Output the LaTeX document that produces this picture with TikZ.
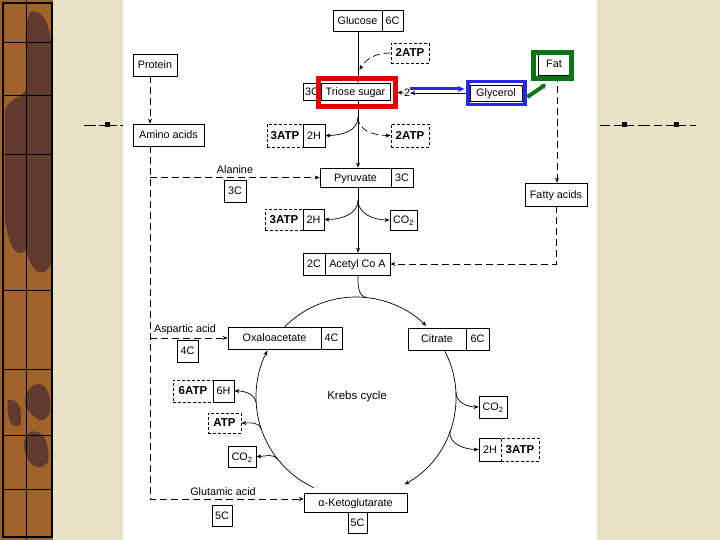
\documentclass[tikz,border=0pt]{standalone}
\usepackage{fontspec}
\setmainfont{Liberation Sans}
\usetikzlibrary{arrows.meta}

\definecolor{cream}{RGB}{232,227,198}
\definecolor{strip}{RGB}{160,100,42}
\definecolor{stripdark}{RGB}{96,58,44}
\definecolor{markred}{RGB}{228,0,0}
\definecolor{markblue}{RGB}{40,40,225}
\definecolor{markgreen}{RGB}{10,115,20}

\tikzset{
	box/.style 2 args={draw, fill=white, line width=0.7pt, inner sep=0pt, minimum width=#1, minimum height=#2, text height=7.8pt, text depth=0pt, font=\fontsize{10.8}{12}\selectfont},
	atpbox/.style 2 args={box={#1}{#2}, dash pattern=on 3pt off 2pt, font=\fontsize{11.5}{13}\selectfont\bfseries},
	lbl/.style={inner sep=0pt, font=\fontsize{10.8}{12}\selectfont},
	flux/.style={line width=0.7pt, -{Stealth[length=5pt,width=4pt]}},
	dflux/.style={flux, dash pattern=on 7pt off 4pt},
	hilite/.style={line width=#1},
}

\begin{document}
\begin{tikzpicture}[x=1pt,y=1pt]
	\useasboundingbox (0,0) rectangle (720,-540);
	
	% slide background
	\fill[white] (0,0) rectangle (720,-540);
	\fill[cream] (53,0) rectangle (123,-540);
	\fill[cream] (597,0) rectangle (720,-540);
	\fill[strip] (0,0) rectangle (53,-540);
	\fill[stripdark] (30,-12) .. controls (45,-8) and (52,-30) .. (52,-60) -- (52,-262) .. controls (42,-282) and (32,-272) .. (26,-250) .. controls (15,-262) and (8,-240) .. (5,-220) -- (5,-110) .. controls (12,-95) and (20,-100) .. (26,-90) .. controls (28,-60) and (22,-30) .. (30,-12);
	\fill[stripdark] (34,-385) .. controls (46,-380) and (52,-395) .. (50,-412) .. controls (44,-425) and (36,-420) .. (30,-412) .. controls (22,-408) and (24,-390) .. (34,-385);
	\fill[stripdark] (8,-400) .. controls (18,-398) and (24,-410) .. (20,-425) .. controls (12,-430) and (6,-420) .. (8,-400);
	\fill[stripdark] (30,-432) .. controls (44,-428) and (50,-445) .. (48,-462) .. controls (40,-472) and (30,-466) .. (26,-455) .. controls (22,-445) and (24,-436) .. (30,-432);
	\draw[line width=0.6pt] (26,0) -- (26,-540);
	\foreach \y in {42,95,154,290,369,435,489}
		\draw[line width=0.6pt] (3,-\y) -- (52,-\y);
	\draw[line width=1.6pt] (3,-3) rectangle (52,-537);
	
	% bullet lines
	\draw[line width=0.6pt] (84,-125) -- (96,-125) (99,-125) -- (117,-125) (120,-125) -- (123,-125);
	\draw[line width=0.6pt] (600,-125) -- (610,-125) (614,-125) -- (634,-125) (638,-125) -- (650,-125) (654,-125) -- (662,-125) (666,-125) -- (686,-125) (690,-125) -- (696,-125);
	\foreach \x in {107,624,676}
		\fill (\x-2.5,-122.5) rectangle (\x+2.5,-127.5);
	
	\coordinate (spine) at (358,0);
	\coordinate (trunk) at (150,0);
	\coordinate (fatline) at (557,0);
	\coordinate (C) at (356,-397);
	
	\node[box={49pt}{21pt}] (glucose) at (357.5,-20.5) {Glucose};
	\node[box={21pt}{21pt}] (glucosec) at (392.5,-20.5) {6C};
	\node[atpbox={38pt}{20pt}] (atpa) at (410,-53) {2ATP};
	\node[box={18pt}{17pt}] (triosec) at (312,-91.5) {3C};
	\node[box={69pt}{17pt}] (triose) at (355.5,-91.5) {Triose sugar};
	\node[lbl] (two) at (407,-93) {2};
	\node[box={52pt}{16pt}] (glycerol) at (496,-93) {Glycerol};
	\node[box={32pt}{22pt}] (fat) at (554,-64) {Fat};
	\node[box={44pt}{22pt}] (protein) at (155,-65) {Protein};
	\node[box={71pt}{22pt}] (amino) at (168.5,-135) {Amino acids};
	\node[atpbox={36pt}{23pt}] (atpb) at (285,-135.5) {3ATP};
	\node[box={22pt}{23pt}] (hb) at (314,-135.5) {2H};
	\node[atpbox={38pt}{23pt}] (atpc) at (410,-135.5) {2ATP};
	\node[box={71pt}{19pt}] (pyruvate) at (355.5,-177.5) {Pyruvate};
	\node[box={22pt}{19pt}] (pyruvatec) at (402,-177.5) {3C};
	\node[lbl] (alanine) at (235,-170) {Alanine};
	\node[box={22pt}{22pt}] (alaninec) at (235,-191) {3C};
	\node[atpbox={38pt}{21pt}] (atpd) at (284,-219.5) {3ATP};
	\node[box={21pt}{21pt}] (hd) at (313.5,-219.5) {2H};
	\node[box={27pt}{20pt}] (coa) at (403.5,-220) {CO\textsubscript{2}};
	\node[box={62pt}{23pt}] (fatty) at (556,-194.5) {Fatty acids};
	\node[box={22pt}{22pt}] (acetylc) at (314,-264) {2C};
	\node[box={65pt}{22pt}] (acetyl) at (357.5,-264) {Acetyl Co A};
	\node[box={93pt}{22pt}] (oxa) at (274.5,-338) {Oxaloacetate};
	\node[box={21pt}{22pt}] (oxac) at (331.5,-338) {4C};
	\node[box={58pt}{22pt}] (citrate) at (437,-339) {Citrate};
	\node[box={23pt}{22pt}] (citratec) at (477.5,-339) {6C};
	\node[lbl] (aspartic) at (185,-330) {Aspartic acid};
	\node[box={21pt}{22pt}] (asparticc) at (187.5,-351) {4C};
	\node[atpbox={40pt}{22pt}] (atpe) at (193,-391) {6ATP};
	\node[box={21pt}{22pt}] (he) at (223.5,-391) {6H};
	\node[atpbox={33pt}{20pt}] (atpf) at (224.5,-423) {ATP};
	\node[box={28pt}{21pt}] (cob) at (242,-456.5) {CO\textsubscript{2}};
	\node[lbl, font=\fontsize{11.5}{13}\selectfont] (krebs) at (357,-397) {Krebs cycle};
	\node[box={28pt}{22pt}] (coc) at (493,-407) {CO\textsubscript{2}};
	\node[box={22pt}{23pt}] (hg) at (490,-449.5) {2H};
	\node[atpbox={38pt}{23pt}] (atpg) at (520,-449.5) {3ATP};
	\node[lbl] (glutamic) at (223,-492) {Glutamic acid};
	\node[box={20pt}{21pt}] (glutamicc) at (222,-515.5) {5C};
	\node[box={103pt}{19pt}] (keto) at (355.5,-502.5) {α-Ketoglutarate};
	\node[box={19pt}{21pt}] (ketoc) at (357.5,-522.5) {5C};
	
	% glycolysis
	\coordinate (joina) at (359.5,-70);
	\coordinate (forkb) at (358,-117);
	\coordinate (forkd) at (358,-200);
	\draw[flux] (glucose.south -| spine) -- (triose.north -| spine);
	\draw[dflux] (atpa.west) to[out=180,in=60] (joina);
	\draw[flux] (triose.south -| spine) -- (pyruvate.north -| spine);
	\draw[flux] (forkb) to[out=-90,in=0] (hb.east);
	\draw[dflux] (forkb) to[out=-90,in=180] (atpc.west);
	\draw[flux] (pyruvate.south -| spine) -- (acetyl.north -| spine);
	\draw[flux] (forkd) to[out=-90,in=0] (hd.east);
	\draw[flux] (forkd) to[out=-90,in=180] (coa.west);
	
	% glycerol and fat
	\draw[flux] (glycerol.west) -- (two.east);
	\draw[flux, shorten >=7pt] (two.west) -- (triose.east);
	\draw[dflux] (fat.south -| fatline) -- (fatty.north -| fatline);
	\draw[dflux] (fatty.south) |- (acetyl.east);
	
	% amino acids
	\draw[dflux] (protein.south -| trunk) -- (amino.north -| trunk);
	\draw[dflux] (amino.south -| trunk) |- ([yshift=3.5pt]keto.west);
	\draw[dflux] (trunk |- pyruvate.west) -- (pyruvate.west);
	\draw[dflux] (trunk |- oxa.west) -- (oxa.west);
	
	% krebs cycle
	\path (C) ++(83.7:100) coordinate (kin);
	\draw[line width=0.7pt] (acetyl.south -| spine) to[out=-90,in=174] (kin);
	\draw[flux] (C) ++(135.8:100) arc[start angle=135.8, end angle=45.4, radius=100];
	\draw[flux] (C) ++(28.1:100) arc[start angle=28.1, end angle=-61, radius=100];
	\draw[flux] (C) ++(-115:100) arc[start angle=-115, end angle=-207.6, radius=100];
	\path (C) ++(183.4:100) coordinate (ke);
	\path (C) ++(198.6:100) coordinate (kf);
	\path (C) ++(218.6:100) coordinate (kb);
	\path (C) ++(2.8:100) coordinate (kc);
	\path (C) ++(-19.8:100) coordinate (kg);
	\draw[flux] (ke) to[out=100,in=0] (he.east);
	\draw[flux] (kf) to[out=110,in=0] (atpf.east);
	\draw[flux] (kb) to[out=130,in=0] (cob.east);
	\draw[flux] (kc) to[out=-90,in=180] (coc.west);
	\draw[flux] (kg) to[out=-100,in=180] (hg.west);
	
	% highlights
	\draw[markred, hilite=5pt] ([shift={(-2.5,4.5)}]triose.north west) rectangle ([shift={(5.5,-6.5)}]triose.south east);
	\draw[markblue, hilite=3.5pt] ([shift={(-1.5,3)}]glycerol.north west) rectangle ([shift={(2.5,-3)}]glycerol.south east);
	\draw[markgreen, hilite=4.5pt] ([shift={(-4,0)}]fat.north west) rectangle ([shift={(1,-3)}]fat.south east);
	\draw[markblue, line width=3pt, -{Stealth[length=7pt,width=6pt]}] ([yshift=4pt]two.east) -- ([shift={(-5,4)}]glycerol.west);
	\draw[markgreen, line width=4pt, -{Stealth[length=4pt,width=6pt]}] ([shift={(5,-4)}]glycerol.east) -- ([shift={(-8,-9)}]fat.south);
	
\end{tikzpicture}
\end{document}
